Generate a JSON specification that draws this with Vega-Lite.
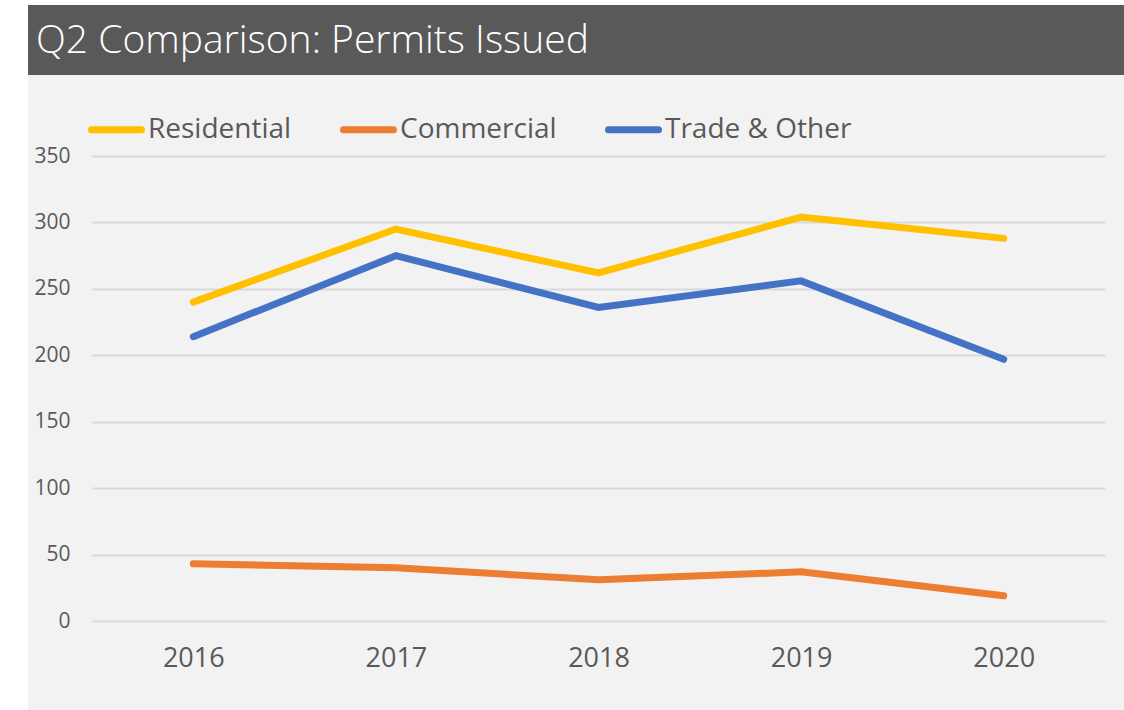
{
  "$schema": "https://vega.github.io/schema/vega-lite/v6.json",
  "background": "#f2f2f2",
  "padding": 0,
  "columns": 3,
  "bounds": "flush",
  "spacing": 0,
  "resolve": {"legend": {"color": "independent"}},
  "config": {"view": {"stroke": null}, "font": "Open Sans"},
  "datasets": {
    "blank": [],
    "permits": [
      {"year": "2016", "series": "Residential", "permits": 240},
      {"year": "2017", "series": "Residential", "permits": 295},
      {"year": "2018", "series": "Residential", "permits": 262},
      {"year": "2019", "series": "Residential", "permits": 304},
      {"year": "2020", "series": "Residential", "permits": 288},
      {"year": "2016", "series": "Commercial", "permits": 43},
      {"year": "2017", "series": "Commercial", "permits": 40},
      {"year": "2018", "series": "Commercial", "permits": 31},
      {"year": "2019", "series": "Commercial", "permits": 37},
      {"year": "2020", "series": "Commercial", "permits": 19},
      {"year": "2016", "series": "Trade & Other", "permits": 214},
      {"year": "2017", "series": "Trade & Other", "permits": 275},
      {"year": "2018", "series": "Trade & Other", "permits": 236},
      {"year": "2019", "series": "Trade & Other", "permits": 256},
      {"year": "2020", "series": "Trade & Other", "permits": 197}
    ]
  },
  "concat": [
    {
      "width": 28, "height": 5,
      "view": {"fill": "#ffffff", "stroke": null},
      "data": {"name": "blank"},
      "mark": {"type": "text"},
      "encoding": {"text": {"field": "label", "type": "nominal"}}
    },
    {
      "width": 64, "height": 5,
      "view": {"fill": "#ffffff", "stroke": null},
      "data": {"name": "blank"},
      "mark": {"type": "text"},
      "encoding": {"text": {"field": "label", "type": "nominal"}}
    },
    {
      "width": 1032, "height": 5,
      "view": {"fill": "#ffffff", "stroke": null},
      "data": {"name": "blank"},
      "mark": {"type": "text"},
      "encoding": {"text": {"field": "label", "type": "nominal"}}
    },
    {
      "width": 28, "height": 151,
      "view": {"fill": "#ffffff", "stroke": null},
      "data": {"name": "blank"},
      "mark": {"type": "text"},
      "encoding": {"text": {"field": "label", "type": "nominal"}}
    },
    {
      "width": 64, "height": 70,
      "view": {"fill": "#595959", "stroke": null},
      "data": {"name": "blank"},
      "mark": {"type": "text"},
      "encoding": {"text": {"field": "label", "type": "nominal"}}
    },
    {
      "width": 1032, "height": 70,
      "view": {"fill": "#595959", "stroke": null},
      "data": {"values": [{"label": "Q2 Comparison: Permits Issued"}]},
      "mark": {"type": "text", "color": "#ffffff", "font": "Open Sans", "fontWeight": 300, "fontSize": 39, "align": "left", "baseline": "alphabetic", "dx": -572, "dy": 13},
      "encoding": {"text": {"field": "label", "type": "nominal"}}
    },
    {
      "width": 28, "height": 554,
      "view": {"fill": "#ffffff", "stroke": null},
      "data": {"name": "blank"},
      "mark": {"type": "text"},
      "encoding": {"text": {"field": "label", "type": "nominal"}}
    },
    {
      "width": 64, "height": 465,
      "data": {"name": "blank"},
      "mark": {"type": "text"},
      "encoding": {"text": {"field": "label", "type": "nominal"}}
    },
    {
      "width": 1013,
      "height": 465,
      "data": {"name": "permits"},
      "mark": {"type": "line", "strokeWidth": 7, "strokeCap": "round", "strokeJoin": "miter"},
      "encoding": {
        "x": {
          "field": "year", "type": "ordinal", "title": null,
          "scale": {"type": "point", "padding": 0.5},
          "axis": {"labelAngle": 0, "labelFontSize": 27, "labelColor": "#595959", "labelPadding": 24, "ticks": false, "domain": false, "grid": false}
        },
        "y": {
          "field": "permits", "type": "quantitative", "title": null,
          "scale": {"domain": [0, 350], "nice": false},
          "axis": {"values": [0, 50, 100, 150, 200, 250, 300, 350], "labelFontSize": 21, "labelColor": "#595959", "labelPadding": 22, "ticks": false, "domain": false, "gridColor": "#d9d9d9", "gridWidth": 2}
        },
        "color": {
          "field": "series", "type": "nominal", "title": null,
          "scale": {"domain": ["Residential", "Commercial", "Trade & Other"], "range": ["#ffc000", "#ed7d31", "#4472c4"]},
          "legend": {"orient": "none", "legendX": -4, "legendY": -55, "direction": "horizontal", "symbolType": "stroke", "symbolSize": 2500, "symbolStrokeWidth": 7, "labelFontSize": 28, "labelColor": "#595959", "labelOffset": 3, "labelLimit": 0, "columnPadding": 37, "padding": 0,
            "encode": {"symbols": {"update": {"strokeCap": {"value": "round"}}}}}
        }
      }
    }
  ]
}
